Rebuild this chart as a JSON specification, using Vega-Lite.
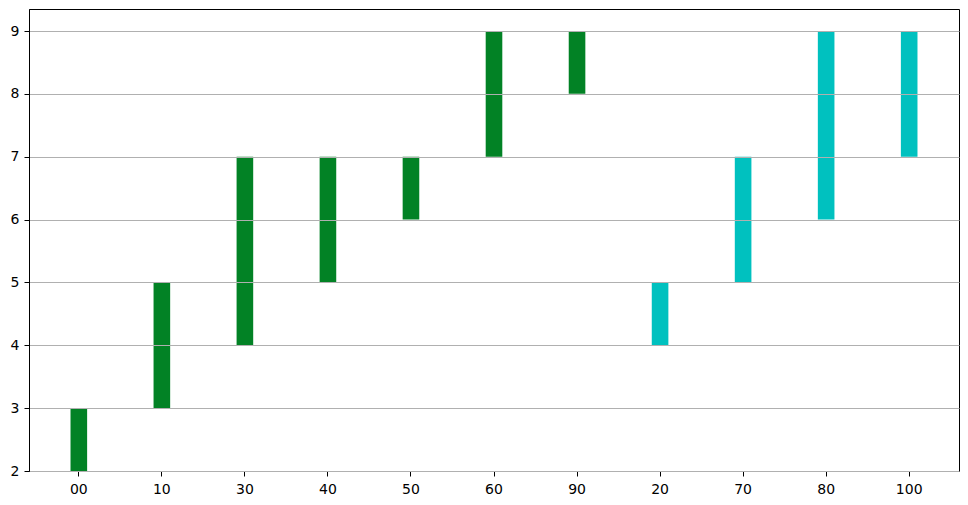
{
  "$schema": "https://vega.github.io/schema/vega-lite/v6.json",
  "width": 930,
  "height": 462,
  "autosize": {"type": "none"},
  "padding": {"left": 29, "top": 9, "right": 9, "bottom": 34},
  "background": "white",
  "config": {
    "font": "DejaVu Sans",
    "view": {"stroke": "black", "strokeWidth": 1},
    "axis": {
      "labelFont": "DejaVu Sans",
      "labelFontSize": 14,
      "labelColor": "black",
      "domainColor": "black",
      "tickColor": "black",
      "tickSize": 5,
      "title": null
    }
  },
  "data": {
    "values": [
      {"cat": "00", "start": 2, "end": 3, "group": "A"},
      {"cat": "10", "start": 3, "end": 5, "group": "A"},
      {"cat": "30", "start": 4, "end": 7, "group": "A"},
      {"cat": "40", "start": 5, "end": 7, "group": "A"},
      {"cat": "50", "start": 6, "end": 7, "group": "A"},
      {"cat": "60", "start": 7, "end": 9, "group": "A"},
      {"cat": "90", "start": 8, "end": 9, "group": "A"},
      {"cat": "20", "start": 4, "end": 5, "group": "B"},
      {"cat": "70", "start": 5, "end": 7, "group": "B"},
      {"cat": "80", "start": 6, "end": 9, "group": "B"},
      {"cat": "100", "start": 7, "end": 9, "group": "B"}
    ]
  },
  "mark": {"type": "bar"},
  "encoding": {
    "x": {
      "field": "cat",
      "type": "nominal",
      "sort": null,
      "scale": {"paddingInner": 0.8, "paddingOuter": 0.5},
      "axis": {"labelAngle": 0, "labelPadding": 6, "grid": false}
    },
    "y": {
      "field": "start",
      "type": "quantitative",
      "scale": {"domain": [2, 9.35], "nice": false, "zero": false},
      "axis": {"values": [2, 3, 4, 5, 6, 7, 8, 9], "grid": true, "gridColor": "#b0b0b0", "gridOpacity": 1, "gridWidth": 1, "zindex": 1, "labelPadding": 5}
    },
    "y2": {"field": "end"},
    "color": {
      "field": "group",
      "type": "nominal",
      "scale": {"domain": ["A", "B"], "range": ["#028225", "#00c1bf"]},
      "legend": null
    }
  }
}
